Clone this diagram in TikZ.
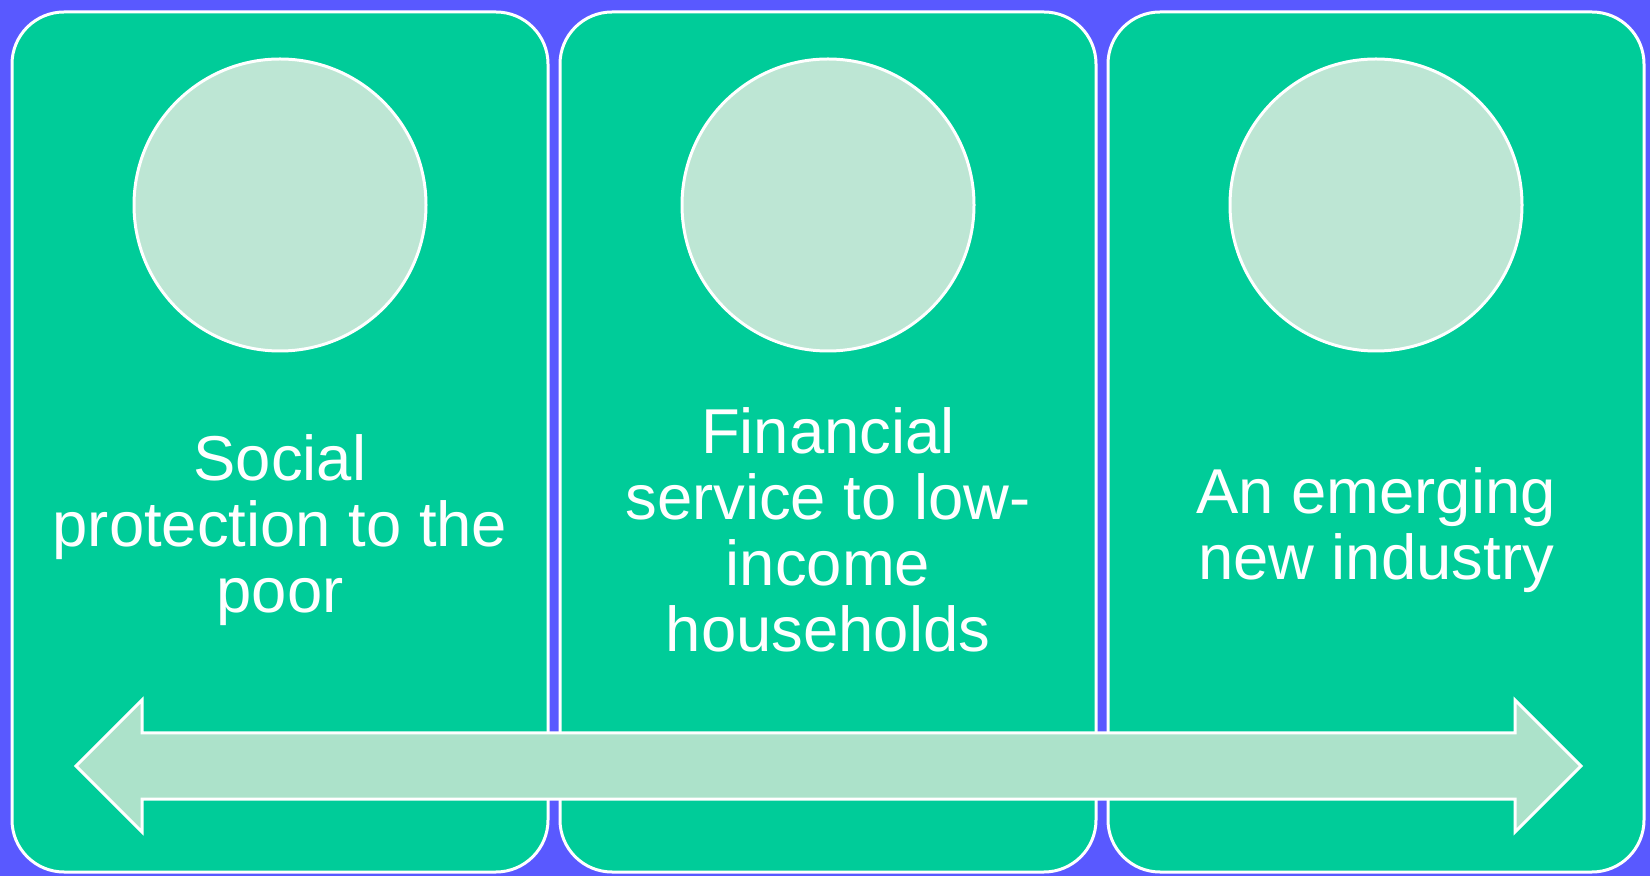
\documentclass[tikz,border=0pt]{standalone}
\usepackage{fontspec}
\setmainfont{Liberation Sans}
\usetikzlibrary{calc}
\definecolor{bgblue}{HTML}{5959FF}
\definecolor{panelgreen}{HTML}{00CC99}
\definecolor{disclight}{HTML}{BDE6D4}
\definecolor{bandlight}{HTML}{ACE2CA}
\tikzstyle{panel}=[draw=white,line width=1.5pt,fill=panelgreen,rounded corners=26pt,minimum width=268pt,minimum height=430pt,inner sep=0pt]
\tikzstyle{disc}=[circle,draw=white,line width=1.5pt,fill=disclight,minimum size=146pt,inner sep=0pt]
\tikzstyle{lbl}=[text=white,align=center,font=\fontsize{31.7}{33}\selectfont,inner sep=0pt]
\tikzstyle{band}=[draw=white,line width=1.5pt,fill=bandlight,line join=miter]
\begin{document}
\begin{tikzpicture}[x=0.5pt,y=-0.5pt]
    \useasboundingbox (0,0) rectangle (1650,876);
    \fill[bgblue] (0,0) rectangle (1650,876);
    \node[panel] (p1) at (280,442) {};
    \node[panel] (p2) at (828,442) {};
    \node[panel] (p3) at (1376,442) {};
    \node[disc] (c1) at (280,205) {};
    \node[disc] (c2) at (828,205) {};
    \node[disc] (c3) at (1376,205) {};
    \node[lbl] (t1) at (280,530) {Social\\protection to the\\poor};
    \node[lbl] (t2) at (828,530) {Financial\\service to low-\\income\\households};
    \node[lbl] (t3) at (1376,530) {An emerging\\new industry};
    % double arrow across the panels
    \coordinate (L) at (76,766);
    \coordinate (R) at (1581,766);
    \draw[band] (L) -- ($(L)+(66,-66)$) -- ($(L)+(66,-33)$) -- ($(R)+(-66,-33)$)
        -- ($(R)+(-66,-66)$) -- (R) -- ($(R)+(-66,66)$) -- ($(R)+(-66,33)$)
        -- ($(L)+(66,33)$) -- ($(L)+(66,66)$) -- cycle;
\end{tikzpicture}
\end{document}
